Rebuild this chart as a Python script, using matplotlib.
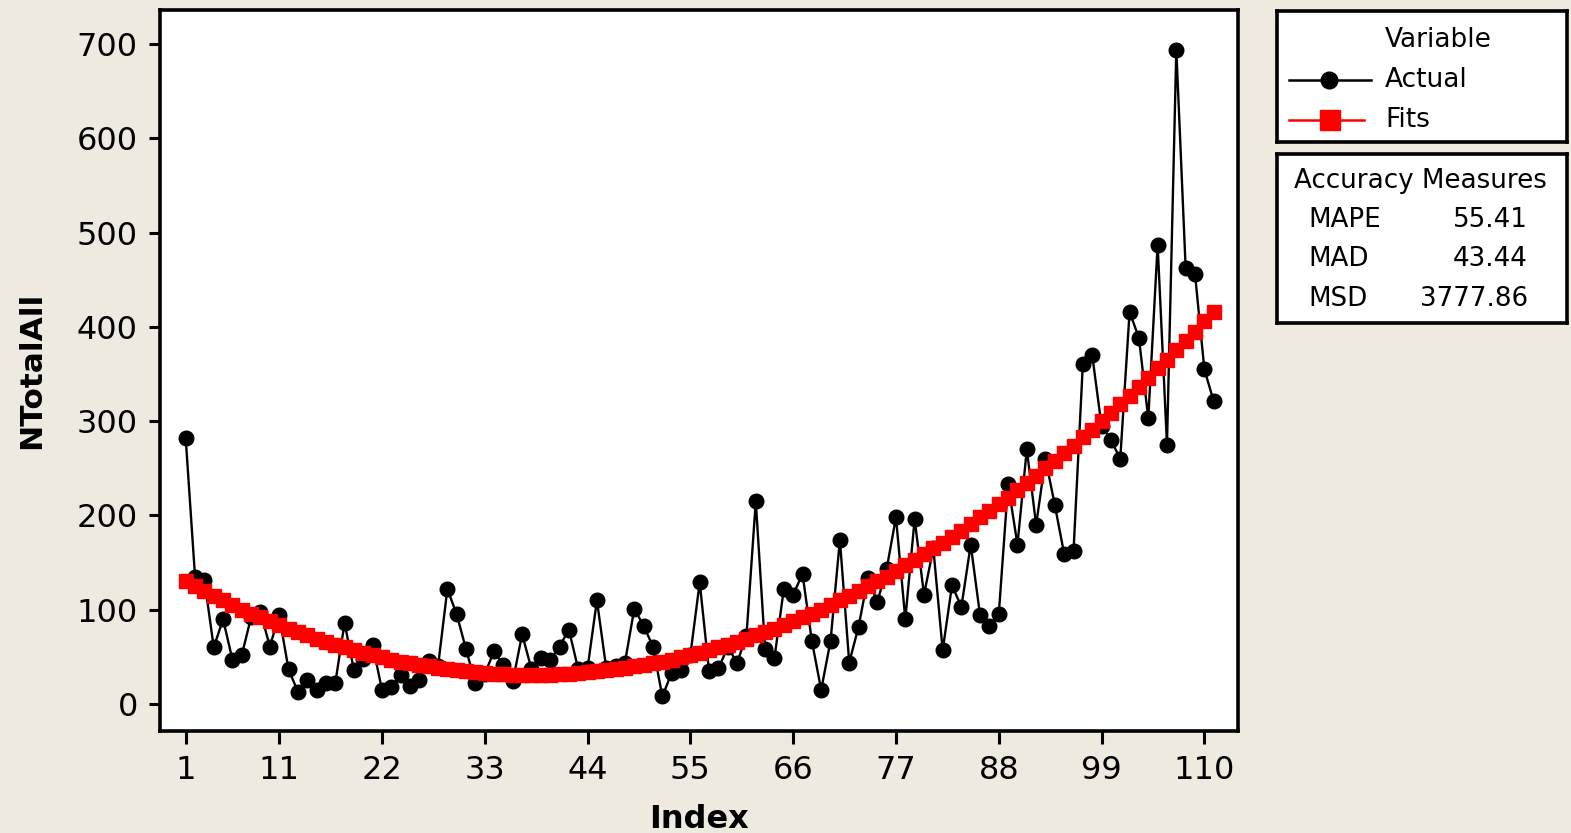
import numpy as np
import matplotlib.pyplot as plt
from matplotlib.lines import Line2D

# Values
index = np.arange(1, 112)
actual = [282, 135, 132, 60, 90, 47, 52, 92, 98, 61,
          94, 37, 13, 26, 15, 22, 22, 86, 36, 48,
          63, 15, 18, 31, 19, 25, 46, 40, 122, 95,
          58, 22, 32, 56, 41, 24, 74, 37, 49, 47,
          61, 79, 37, 38, 110, 38, 40, 44, 101, 83,
          61, 8, 33, 36, 52, 129, 35, 38, 60, 44,
          72, 215, 58, 49, 122, 116, 138, 67, 15, 67,
          174, 44, 82, 134, 108, 143, 198, 90, 196, 116,
          165, 57, 126, 103, 169, 94, 83, 95, 233, 169,
          270, 190, 260, 211, 159, 162, 361, 370, 295, 280,
          260, 416, 388, 303, 487, 275, 694, 462, 456, 355,
          321]
fits = [130, 125, 120, 115, 110, 105, 100, 96, 92, 88,
        84, 80, 76, 73, 69, 66, 63, 60, 57, 54,
        52, 50, 47, 45, 43, 41, 40, 38, 37, 36,
        35, 34, 33, 32, 32, 31, 31, 31, 31, 31,
        32, 32, 33, 34, 35, 36, 37, 38, 40, 41,
        43, 45, 47, 50, 52, 54, 57, 60, 63, 66,
        69, 73, 76, 80, 84, 88, 92, 96, 100, 105,
        110, 115, 120, 125, 130, 135, 141, 147, 153, 159,
        165, 171, 177, 184, 191, 198, 205, 212, 219, 227,
        234, 242, 250, 258, 266, 274, 283, 291, 300, 309,
        318, 327, 336, 346, 356, 365, 375, 385, 395, 406,
        416]
xticks = [1, 11, 22, 33, 44, 55, 66, 77, 88, 99, 110]
yticks = [0, 100, 200, 300, 400, 500, 600, 700]
measures = ["MAPE", "MAD", "MSD"]
measure_values = ["55.41", "43.44", "3777.86"]

W, H = 1571, 833
bg = "#EEEAE0"

fig = plt.figure(figsize=(W / 100, H / 100), dpi=100, facecolor=bg)

def frac(left, top, right, bottom):
    return [left / W, 1 - bottom / H, (right - left) / W, (bottom - top) / H]

ax = fig.add_axes(frac(160, 10, 1238, 731))
ax.set_facecolor("white")
ax.plot(index, actual, color="black", lw=1.7, marker="o", ms=10.5, zorder=2)
ax.plot(index, fits, color="red", lw=2.5, marker="s", ms=10.5, mec="red", zorder=3)

ax.set_xlim(-1.75, 113.6)
ax.set_ylim(-28.6, 736)
ax.set_xticks(xticks)
ax.set_yticks(yticks)
ax.tick_params(direction="out", length=8, width=2.2, labelsize=23, pad=8)
ax.tick_params(axis="x", length=9)
for s in ax.spines.values():
    s.set_linewidth(2.6)
ax.set_xlabel("Index", fontsize=23, fontweight="bold", labelpad=13)
ax.set_ylabel("NTotalAll", fontsize=22.5, fontweight="bold", labelpad=22)

# Legend box
lg = fig.add_axes(frac(1277, 11, 1567, 142))
lg.set_xlim(0, 290)
lg.set_ylim(131, 0)
lg.set_xticks([])
lg.set_yticks([])
for s in lg.spines.values():
    s.set_linewidth(2.6)
lg.text(108, 29, "Variable", fontsize=19, va="center", ha="left")
lg.text(108, 69, "Actual", fontsize=19, va="center", ha="left")
lg.text(108, 109, "Fits", fontsize=19, va="center", ha="left")
lg.add_line(Line2D([12, 94], [69, 69], color="black", lw=1.8))
lg.add_line(Line2D([52], [69], color="black", marker="o", ms=12))
lg.add_line(Line2D([12, 87], [109, 109], color="red", lw=1.8))
lg.add_line(Line2D([53], [109], color="red", marker="s", ms=14))

# Accuracy measures box
am = fig.add_axes(frac(1277, 154, 1567, 323))
am.set_xlim(0, 290)
am.set_ylim(169, 0)
am.set_xticks([])
am.set_yticks([])
for s in am.spines.values():
    s.set_linewidth(2.6)
am.text(17, 27, "Accuracy Measures", fontsize=18.8, va="center", ha="left")
for k, (name, val) in enumerate(zip(measures, measure_values)):
    y = 66 + 39.5 * k
    am.text(31, y, name, fontsize=18.8, va="center", ha="left")
    am.text(251, y, val, fontsize=18.8, va="center", ha="right")

fig.savefig("out.png", dpi=100, facecolor=bg)
